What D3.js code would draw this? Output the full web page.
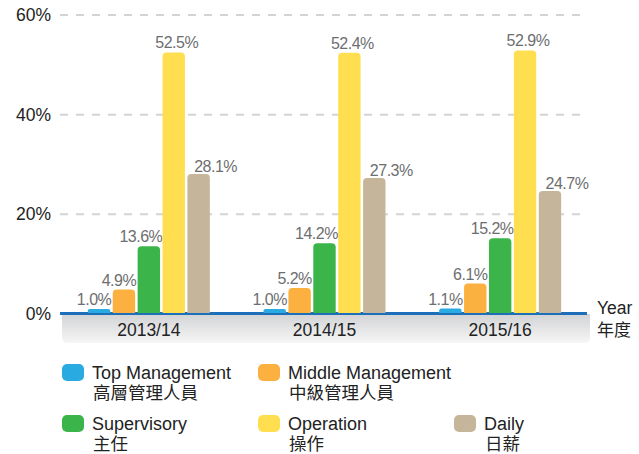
<!DOCTYPE html>
<html><head><meta charset="utf-8">
<script src="https://cdn.jsdelivr.net/npm/d3@7"></script>
<style>body{margin:0;background:#fff;} svg{display:block;font-family:"Liberation Sans",Arial,Helvetica,sans-serif;}</style>
</head><body>
<svg id="c" width="639" height="454"></svg>
<script>
const years = ["2013/14","2014/15","2015/16"];
const seriesEn = ["Top Management","Middle Management","Supervisory","Operation","Daily"];
const seriesZh = ["高層管理人員","中級管理人員","主任","操作","日薪"];
const colors = ["#29aae1","#fbb040","#3bb54a","#ffdf4f","#c4b59b"];
const topMgmt = [1.0,1.0,1.1];
const middleMgmt = [4.9,5.2,6.1];
const supervisory = [13.6,14.2,15.2];
const operation = [52.5,52.4,52.9];
const daily = [28.1,27.3,24.7];
const yTicks = [0,20,40,60];
const values = [topMgmt,middleMgmt,supervisory,operation,daily];

const svg = d3.select("#c");
const x0 = d3.scaleBand().domain(years).range([60,587]);
const x1 = d3.scaleBand().domain(d3.range(5)).range([-60,62]).paddingInner(0.1);
const y = d3.scaleLinear().domain([0,60]).range([314,15]);

// grid
svg.append("g").selectAll("line").data(yTicks.filter(d=>d>0)).join("line")
  .attr("x1",60).attr("x2",582).attr("y1",d=>y(d)).attr("y2",d=>y(d))
  .attr("stroke","#d4d4d4").attr("stroke-width",2).attr("stroke-dasharray","8,8");
svg.append("g").selectAll("text").data(yTicks).join("text")
  .attr("x",51).attr("y",d=>y(d)+6).attr("text-anchor","end")
  .attr("font-size",17.5).attr("fill","#222").text(d=>d+"%");

// gray band gradient
const defs = svg.append("defs");
const g = defs.append("linearGradient").attr("id","band").attr("x1",0).attr("x2",0).attr("y1",0).attr("y2",1);
g.append("stop").attr("offset","0%").attr("stop-color","#d2d3d5");
g.append("stop").attr("offset","100%").attr("stop-color","#f6f6f6");
svg.append("path").attr("fill","url(#band)")
  .attr("d",`M62,314 H590 V337 Q590,343 584,343 H68 Q62,343 62,337 Z`);
svg.append("line").attr("x1",60).attr("x2",587).attr("y1",313.5).attr("y2",313.5)
  .attr("stroke","#1c6fb8").attr("stroke-width",3);

// bars
const r = 4;
const labelDx = [-5,-5,-8,3,17];
years.forEach((yr,i)=>{
  const cx = x0(yr) + x0.bandwidth()/2;
  const gg = svg.append("g").attr("transform",`translate(${cx},0)`);
  values.forEach((arr,s)=>{
    const v = arr[i];
    const bx = x1(s), bw = x1.bandwidth();
    const top = y(v), bot = y(0) - 1;
    const rr = Math.min(r,(bot-top)/2);
    gg.append("path").attr("fill",colors[s])
      .attr("d",`M${bx},${bot} V${top+rr} Q${bx},${top} ${bx+rr},${top} H${bx+bw-rr} Q${bx+bw},${top} ${bx+bw},${top+rr} V${bot} Z`);
    gg.append("text").attr("x",bx+bw/2+labelDx[s]).attr("y",top-(s===4?2:4))
      .attr("text-anchor","middle").attr("font-size",16).attr("letter-spacing","-0.5").attr("fill","#6d6e70")
      .text(v.toFixed(1)+"%");
  });
  svg.append("text").attr("x",cx+1).attr("y",336).attr("text-anchor","middle")
    .attr("font-size",17.5).attr("fill","#222").text(yr);
});

svg.append("text").attr("x",597).attr("y",314).attr("font-size",17.5).attr("fill","#222").text("Year");
svg.append("text").attr("x",597).attr("y",335.5).attr("font-size",17).attr("fill","#222")
  .attr("font-family","'Noto Sans CJK TC',sans-serif").text("年度");

// legend
const legPos = [[62,379],[258,379],[62,430],[258,430],[454,430]];
seriesEn.forEach((name,s)=>{
  const [lx,ly] = legPos[s];
  svg.append("rect").attr("x",lx).attr("y",ly-15).attr("width",22).attr("height",17)
    .attr("rx",5).attr("fill",colors[s]);
  svg.append("text").attr("x",lx+30).attr("y",ly).attr("font-size",18)
    .attr("fill","#222").text(name);
  svg.append("text").attr("x",lx+31).attr("y",ly+20).attr("font-size",17.5)
    .attr("font-family","'Noto Sans CJK TC',sans-serif").attr("fill","#222").text(seriesZh[s]);
});
</script>
</body></html>
